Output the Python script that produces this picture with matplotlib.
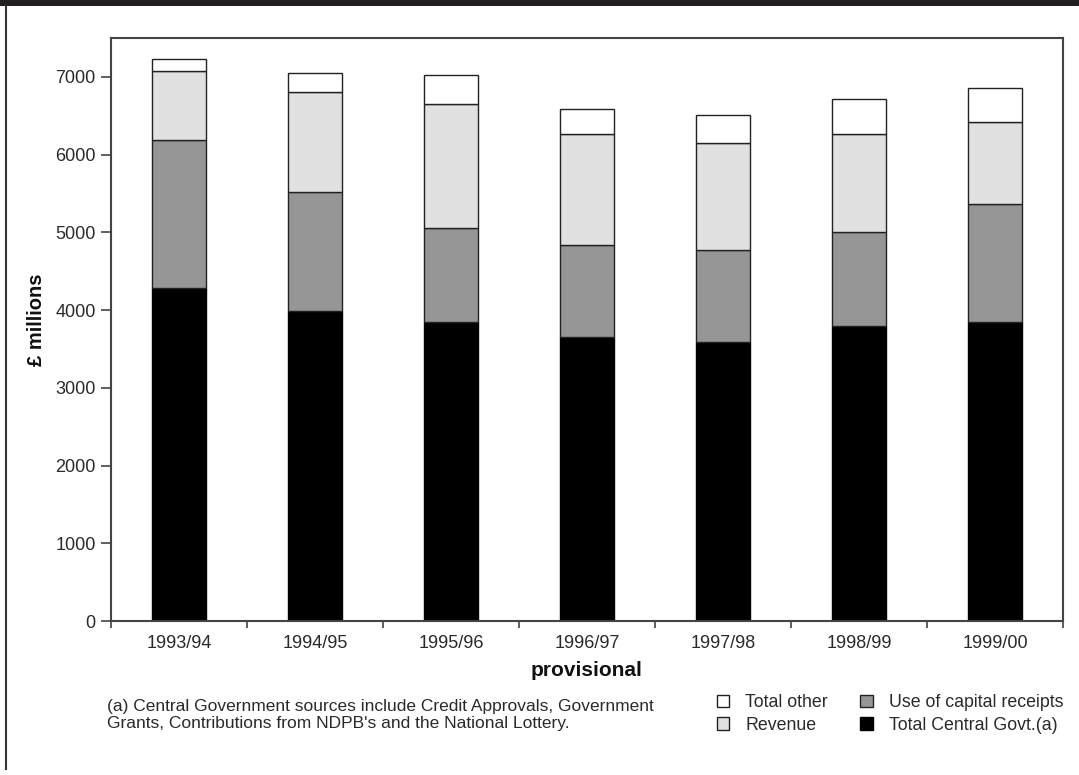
import matplotlib.pyplot as plt
import numpy as np
from matplotlib.patches import Patch, Rectangle
from matplotlib.lines import Line2D

YEARS = ["1993/94", "1994/95", "1995/96", "1996/97", "1997/98", "1998/99", "1999/00"]
CENTRAL_GOVT = [4290, 3990, 3845, 3650, 3590, 3790, 3850]
CAPITAL_RECEIPTS = [1900, 1525, 1215, 1185, 1180, 1220, 1520]
REVENUE = [890, 1295, 1590, 1430, 1380, 1255, 1045]
TOTAL_OTHER = [145, 235, 375, 320, 365, 450, 440]
Y_TICKS = [0, 1000, 2000, 3000, 4000, 5000, 6000, 7000]

COL_CENTRAL = "#000000"
COL_CAPITAL = "#969696"
COL_REVENUE = "#e1e1e1"
COL_OTHER = "#ffffff"
SPINE = "#444444"
TXT = "#2a2a2a"

plt.rcParams["font.family"] = ["Liberation Sans", "DejaVu Sans"]

fig = plt.figure(figsize=(10.79, 7.75), dpi=100)
fig.patch.set_facecolor("white")

# dark band on top and the left frame line
fig.add_artist(Rectangle((0, 1 - 6 / 775), 1, 6 / 775, transform=fig.transFigure,
                         facecolor="#231f20", edgecolor="none"))
fig.add_artist(Line2D([6 / 1079, 6 / 1079], [1 - 6 / 775, 6 / 775],
                      transform=fig.transFigure, color="#333333", linewidth=1.5))

ax = fig.add_axes([111 / 1079, 1 - 621 / 775, (1063 - 111) / 1079, (621 - 38) / 775])

x = np.arange(len(YEARS))
width = 0.4
central = np.array(CENTRAL_GOVT)
capital = np.array(CAPITAL_RECEIPTS)
revenue = np.array(REVENUE)
other = np.array(TOTAL_OTHER)

ax.bar(x, central, width, color=COL_CENTRAL, edgecolor="black", linewidth=1)
ax.bar(x, capital, width, bottom=central, color=COL_CAPITAL, edgecolor="#222222", linewidth=1)
ax.bar(x, revenue, width, bottom=central + capital, color=COL_REVENUE,
       edgecolor="#222222", linewidth=1)
ax.bar(x, other, width, bottom=central + capital + revenue, color=COL_OTHER,
       edgecolor="#222222", linewidth=1)

ax.set_xlim(-0.5, len(YEARS) - 0.5)
ax.set_ylim(0, 7500)
ax.set_yticks(Y_TICKS)
ax.set_yticklabels([str(t) for t in Y_TICKS], fontsize=13, color=TXT)
ax.set_xticks(x)
ax.set_xticklabels(YEARS, fontsize=13, color=TXT)
ax.set_xticks(np.arange(-0.5, len(YEARS)), minor=True)
ax.tick_params(axis="x", which="major", length=0, pad=10)
ax.tick_params(axis="x", which="minor", length=5, width=1.2, color=SPINE, direction="out")
ax.tick_params(axis="y", length=7, width=1.2, color=SPINE, pad=4)
for sp in ax.spines.values():
    sp.set_color(SPINE)
    sp.set_linewidth(1.5)

fig.text(36 / 1079, 1 - 320 / 775, "£ millions", rotation=90, ha="center", va="center",
         fontsize=14.5, fontweight="bold", color="#111111")
fig.text(587 / 1079, 1 - 671 / 775, "provisional", ha="center", va="center",
         fontsize=15, fontweight="bold", color="#111111")
fig.text(107 / 1079, 1 - 715 / 775,
         "(a) Central Government sources include Credit Approvals, Government\n"
         "Grants, Contributions from NDPB's and the National Lottery.",
         ha="left", va="center", fontsize=12.5, color=TXT, linespacing=1.1)

handles = [
    Patch(facecolor=COL_OTHER, edgecolor="#222222", label="Total other"),
    Patch(facecolor=COL_REVENUE, edgecolor="#222222", label="Revenue"),
    Patch(facecolor=COL_CAPITAL, edgecolor="#222222", label="Use of capital receipts"),
    Patch(facecolor=COL_CENTRAL, edgecolor="black", label="Total Central Govt.(a)"),
]
leg = fig.legend(handles=handles, loc="center left", bbox_to_anchor=(717 / 1079, 1 - 714 / 775),
                 ncol=2, frameon=False, fontsize=12.8, handlelength=0.7, handleheight=0.7,
                 handletextpad=0.9, columnspacing=1.8, labelspacing=0.3, borderpad=0,
                 borderaxespad=0)
for t in leg.get_texts():
    t.set_color(TXT)

fig.savefig("out.png", dpi=100, facecolor="white")
